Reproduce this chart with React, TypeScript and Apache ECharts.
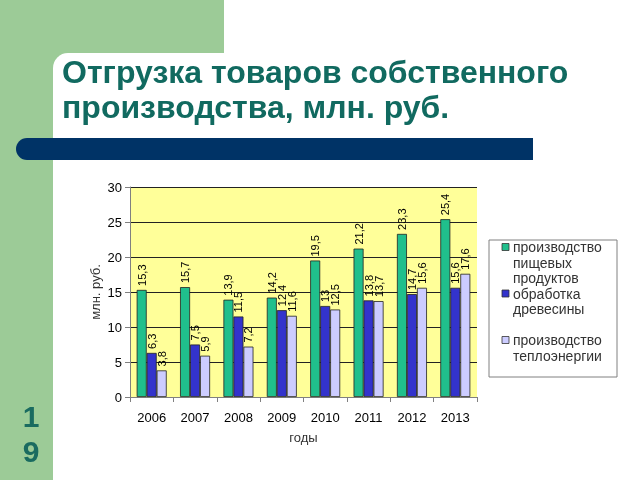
import React, { useEffect, useRef } from "react";
import * as echarts from "echarts";

const years = ["2006", "2007", "2008", "2009", "2010", "2011", "2012", "2013"];
const foodValues = [15.3, 15.7, 13.9, 14.2, 19.5, 21.2, 23.3, 25.4];
const woodValues = [6.3, 7.5, 11.5, 12.4, 13, 13.8, 14.7, 15.6];
const heatValues = [3.8, 5.9, 7.2, 11.6, 12.5, 13.7, 15.6, 17.6];
const seriesNames = ["производство пищевых продуктов", "обработка древесины", "производство теплоэнергии"];
const legendLabels = ["производство\nпищевых\nпродуктов", "обработка\nдревесины\n", "производство\nтеплоэнергии"];
const seriesColors = ["#20BF8C", "#3333CC", "#CCCCFF"];
const titleLines = ["Отгрузка товаров собственного", "производства, млн. руб."];
const pageNumber = ["1", "9"];
const yAxisName = "млн. руб.";
const xAxisName = "годы";

const FONT = "'Liberation Sans', Arial, sans-serif";

export default function App() {
  const ref = useRef<HTMLDivElement>(null);
  useEffect(() => {
    if (!ref.current) return;
    const chart = echarts.init(ref.current, null, { renderer: "svg" });
    const dataSets = [foodValues, woodValues, heatValues];

    const legendEls: any[] = [];
    const lh = 15.5;
    let lineIdx = 0;
    legendLabels.forEach((lab, i) => {
      const cy = 247 + lh * lineIdx;
      legendEls.push({
        type: "rect",
        shape: { x: 502, y: cy - 3.5, width: 7, height: 7 },
        style: { fill: seriesColors[i], stroke: "#333", lineWidth: 0.8 },
        z: 10,
      });
      legendEls.push({
        type: "text",
        x: 513,
        y: cy - lh / 2,
        style: {
          text: lab,
          font: `14px ${FONT}`,
          fill: "#333",
          lineHeight: lh,
          verticalAlign: "top",
        },
        z: 10,
      });
      lineIdx += lab.split("\n").length;
    });

    const option: any = {
      animation: false,
      textStyle: { fontFamily: FONT },
      graphic: [
        { type: "rect", shape: { x: 0, y: 0, width: 224, height: 120 }, style: { fill: "#9CCB97" }, z: -10 },
        { type: "rect", shape: { x: 53, y: 53, width: 600, height: 440, r: [15, 0, 0, 0] }, style: { fill: "#FFFFFF" }, z: -9 },
        { type: "rect", shape: { x: 0, y: 0, width: 53, height: 480 }, style: { fill: "#9CCB97" }, z: -8 },
        { type: "rect", shape: { x: 16, y: 138, width: 517, height: 22, r: [11, 0, 0, 11] }, style: { fill: "#003366" }, z: -7 },
        ...titleLines.map((t, i) => ({
          type: "text",
          x: 62,
          y: 72 + i * 35,
          style: { text: t, font: `bold 32px ${FONT}`, fill: "#116A60", verticalAlign: "middle" },
          z: 5,
        })),
        ...pageNumber.map((t, i) => ({
          type: "text",
          x: 31,
          y: 416 + i * 35,
          style: { text: t, font: `bold 30px ${FONT}`, fill: "#1A6B60", align: "center", verticalAlign: "middle" },
          z: 5,
        })),
        { type: "rect", shape: { x: 489, y: 240, width: 128, height: 137 }, style: { fill: "#FFFFFF", stroke: "#808080", lineWidth: 1 }, z: 9 },
        ...legendEls,
      ],
      grid: { left: 130, top: 187, right: 163, bottom: 83, show: true, backgroundColor: "#FFFF99", borderWidth: 0 },
      xAxis: {
        type: "category",
        data: years,
        name: xAxisName,
        nameLocation: "middle",
        nameGap: 34,
        nameMoveOverlap: false,
        nameTextStyle: { fontSize: 13, color: "#333", fontFamily: FONT },
        axisLine: { lineStyle: { color: "#808080" } },
        axisTick: { show: true, length: 5, lineStyle: { color: "#808080" } },
        axisLabel: { fontSize: 13, color: "#000", margin: 14, fontFamily: FONT },
      },
      yAxis: {
        type: "value",
        min: 0,
        max: 30,
        interval: 5,
        name: yAxisName,
        nameLocation: "middle",
        nameGap: 28,
        nameMoveOverlap: false,
        nameRotate: 90,
        nameTextStyle: { fontSize: 13, color: "#333", fontFamily: FONT },
        axisLine: { show: true, lineStyle: { color: "#808080" } },
        axisTick: { show: true, length: 5, lineStyle: { color: "#808080" } },
        axisLabel: { fontSize: 13, color: "#000", margin: 8, fontFamily: FONT },
        splitLine: { lineStyle: { color: "#222", width: 1 } },
      },
      series: dataSets.map((d, i) => ({
        type: "bar",
        name: seriesNames[i],
        data: d,
        barWidth: 10,
        barGap: "0%",
        itemStyle: { color: seriesColors[i], borderColor: "#222", borderWidth: 0.8 },
        label: {
          show: true,
          position: "top",
          rotate: 90,
          align: "left",
          verticalAlign: "middle",
          distance: 4,
          fontSize: 11,
          color: "#000",
          fontFamily: FONT,
          formatter: (p: any) => String(p.value).replace(".", ","),
        },
      })),
    };
    chart.setOption(option);
    return () => chart.dispose();
  }, []);
  return <div ref={ref} style={{ position: "fixed", left: 0, top: 0, width: 640, height: 480 }} />;
}
